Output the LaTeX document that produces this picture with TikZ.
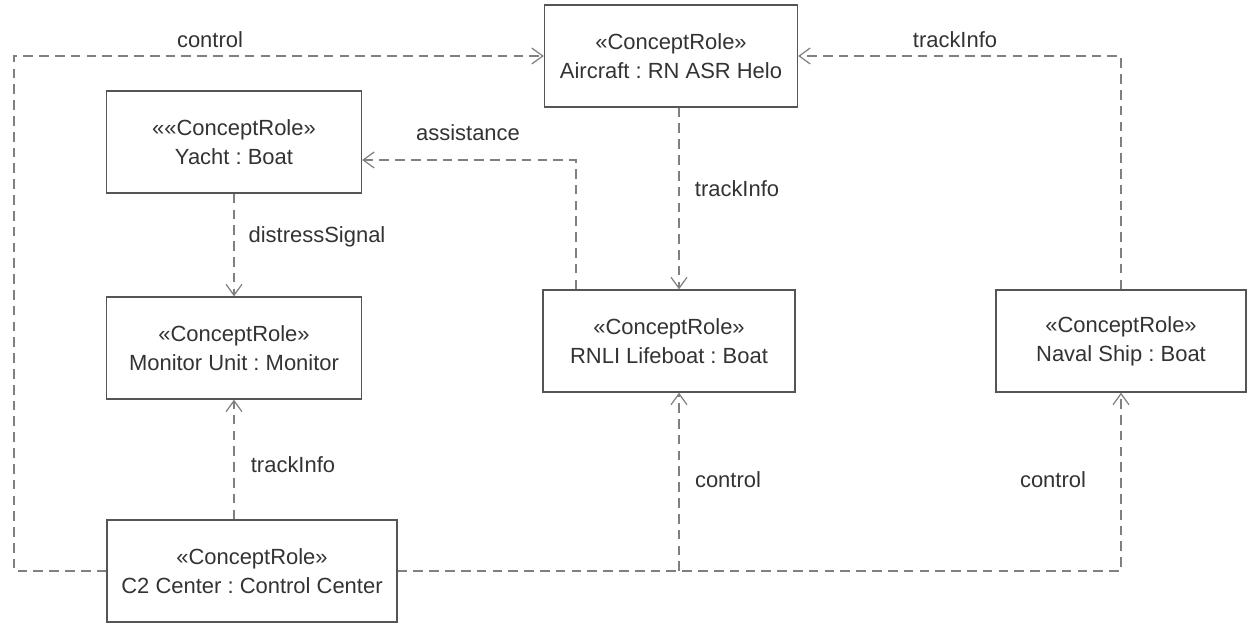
\documentclass[tikz,border=0pt]{standalone}
\usepackage{fontspec}
\setmainfont{Liberation Sans}
\usetikzlibrary{positioning, arrows.meta}
\definecolor{rolegray}{HTML}{555555}
\definecolor{linkgray}{HTML}{808080}
\definecolor{txtgray}{HTML}{333333}
\frenchspacing
\begin{document}
\begin{tikzpicture}[x=0.02cm, y=-0.02cm, font=\fontsize{12.5}{16.5}\selectfont, text=txtgray,
    role/.style={draw=rolegray, line width=0.8pt, align=center, minimum width=5.06cm, minimum height=2.04cm, inner sep=0pt},
    link/.style={draw=linkgray, line width=0.7pt, dash pattern=on 5.5pt off 3.5pt, -{Straight Barb[length=2.2mm, width=3.2mm]}}]
        \useasboundingbox (0,0) rectangle (1257,634);
        \node[role] (air) at (671,56) {«ConceptRole»\\Aircraft : RN ASR Helo};
        \node[role, minimum width=5.1cm] (yacht) at (234,142) {««ConceptRole»\\Yacht : Boat};
        \node[role, minimum width=5.1cm] (mon) at (234,348) {«ConceptRole»\\Monitor Unit : Monitor};
        \node[role, minimum width=5.04cm] (rnli) at (669,341) {«ConceptRole»\\RNLI Lifeboat : Boat};
        \node[role, minimum width=5cm] (naval) at (1121,341) {«ConceptRole»\\Naval Ship : Boat};
        \node[role, minimum width=5.8cm] (c2) at (252,571) {«ConceptRole»\\C2 Center : Control Center};
        \coordinate (leftx) at (14,300);
        \coordinate (rnlix) at (679,300);
        \coordinate (assist) at (576,160);
        \draw[link] (c2.west) -| (air.west -| leftx) -- (air.west);
        \draw[link] (c2.east) -| (naval.south);
        \draw[link] (c2.east -| rnlix) -- (rnli.south -| rnlix);
        \draw[link] (naval.north) |- (air.east);
        \draw[link] (air.south -| rnlix) -- (rnli.north -| rnlix);
        \draw[link] (rnli.north -| assist) -- (assist) -- (yacht.east |- assist);
        \draw[link] (yacht.south) -- (mon.north);
        \draw[link] (mon.south |- c2.north) -- (mon.south);
        \node (l1) at (210,40) {control};
        \node (l2) at (955,40) {trackInfo};
        \node (l3) at (468,133) {assistance};
        \node (l4) at (737,189) {trackInfo};
        \node (l5) at (317,237) {distressSignal};
        \node (l6) at (293,465) {trackInfo};
        \node (l7) at (728,480) {control};
        \node (l8) at (1053,480) {control};
      \end{tikzpicture}
\end{document}
